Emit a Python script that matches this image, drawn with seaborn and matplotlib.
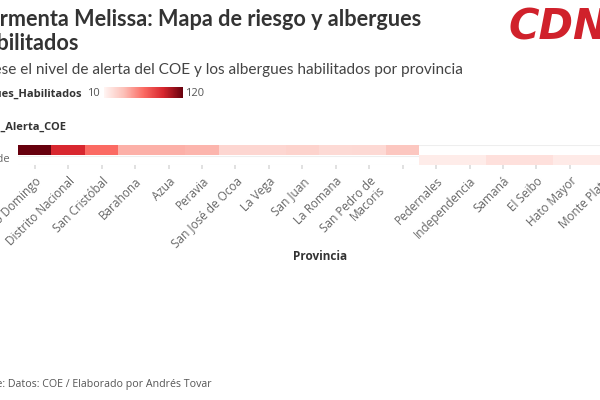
import numpy as np
import pandas as pd
import matplotlib
matplotlib.use("Agg")
import matplotlib.pyplot as plt
from matplotlib.colors import LinearSegmentedColormap
import seaborn as sns

sns.set_theme(style="white")
plt.rcParams['font.family'] = ['Open Sans', 'DejaVu Sans']

# datos
provincias = ["Santo Domingo", "Distrito Nacional", "San Cristóbal", "Barahona", "Azua",
              "Peravia", "San José de Ocoa", "La Vega", "San Juan", "La Romana",
              "San Pedro de\nMacoris", "", "Pedernales", "Independencia", "Samaná",
              "El Seibo", "Hato Mayor", "Monte Plata"]
nivel = ["Roja"] * 12 + ["Verde"] * 6
albergues = [120, 92, 65, 43, 43, 41, 26, 26, 28, 24, 25, 34, 15, 15, 21, 21, 16, 16]
niveles = ["Roja", "Verde"]
etiquetas_nivel = ["", "Verde"]

df = pd.DataFrame({"Provincia": provincias, "Nivel_Alerta_COE": nivel,
                   "Albergues_Habilitados": albergues})
tabla = df.pivot(index="Nivel_Alerta_COE", columns="Provincia",
                 values="Albergues_Habilitados").reindex(index=niveles, columns=provincias)

rojos = LinearSegmentedColormap.from_list(
    "rojos", ["#fff5f3", "#fcc0b8", "#fb6b63", "#d7262e", "#67000d"])

W, H = 600, 400
fig = plt.figure(figsize=(6, 4), dpi=100)

def px(x0, y0, w, h):
    return [x0 / W, 1 - (y0 + h) / H, w / W, h / H]

ax = fig.add_axes(px(18, 145, 602, 20))
cax = fig.add_axes(px(104, 87, 79, 11))

sns.heatmap(tabla, ax=ax, cmap=rojos, vmin=10, vmax=120, cbar=True, cbar_ax=cax,
            cbar_kws={"orientation": "horizontal"}, linewidths=0)

# lineas guia
for y in [0.05, 1.05, 1.95]:
    ax.axhline(y, color="#eeeeee", lw=0.8, zorder=0)
ax.set_facecolor("white")

ax.set_xticks(np.arange(len(provincias)) + 0.5)
ax.set_xticklabels(provincias, rotation=45, ha="right", rotation_mode="anchor",
                   fontsize=8.5, color="#666666", linespacing=0.95)
ax.set_yticks(np.arange(len(niveles)) + 0.5)
ax.set_yticklabels(etiquetas_nivel, rotation=0, fontsize=8, color="#666666")
ax.tick_params(axis="x", length=3, color="#dddddd", pad=4, bottom=True)
ax.tick_params(axis="y", length=0, pad=6)
ax.set_xlabel("")
ax.set_ylabel("")
for s in ax.spines.values():
    s.set_visible(False)

cax.set_xticks([])
cax.set_yticks([])
for s in cax.spines.values():
    s.set_visible(False)

# textos
fig.text(-26 / W, 1 - 9 / H, "Tormenta Melissa: Mapa de riesgo y albergues\nhabilitados",
         fontsize=15.6, fontweight="bold", color="#333333", va="top", ha="left",
         family=["Lato", "DejaVu Sans"], linespacing=1.2)
fig.text(-60 / W, 1 - 70 / H, "Compárese el nivel de alerta del COE y los albergues habilitados por provincia",
         fontsize=11.1, color="#444444", va="center", ha="left", family=["Lato", "DejaVu Sans"])
fig.text(81 / W, 1 - 94 / H, "Albergues_Habilitados", fontsize=8, fontweight="bold",
         color="#333333", va="center", ha="right")
fig.text(100 / W, 1 - 94 / H, "10", fontsize=8, color="#555555", va="center", ha="right")
fig.text(185 / W, 1 - 94 / H, "120", fontsize=8, color="#555555", va="center", ha="left")
fig.text(-28 / W, 1 - 127 / H, "Nivel_Alerta_COE", fontsize=8, fontweight="bold",
         color="#333333", va="center", ha="left")
fig.text(320 / W, 1 - 257 / H, "Provincia", fontsize=8.5, fontweight="bold",
         color="#333333", va="center", ha="center")
fig.text(-32 / W, 1 - 385 / H, "Fuente: Datos: COE / Elaborado por Andrés Tovar",
         fontsize=7.7, color="#555555", va="center", ha="left")
fig.text(508 / W, 1 - 27 / H, "CDN", fontsize=30, fontweight="heavy", fontstyle="italic",
         color="#d0212b", va="center", ha="left", family=["DejaVu Sans"])

fig.savefig("out.png", dpi=100)
